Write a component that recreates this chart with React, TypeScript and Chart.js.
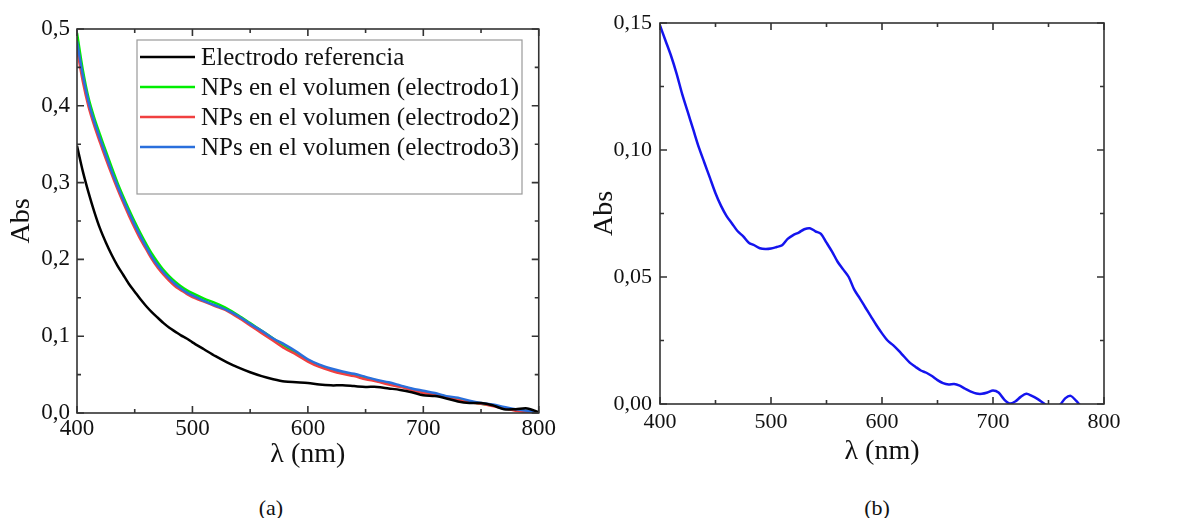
import React, { useEffect, useRef } from "react";
import { Chart, registerables } from "chart.js";

Chart.register(...registerables);

// ---------- Data: panel (a) ----------
const wavelengthsA = [
  400, 405, 410, 415, 420, 425, 430, 435, 440, 445, 450, 455, 460, 465, 470, 475, 480, 485, 490, 495, 500,
  510, 520, 530, 540, 550, 560, 570, 580, 590, 600, 610, 620, 630, 640, 650, 660, 670, 680, 690, 700,
  710, 720, 730, 740, 750, 760, 770, 780, 790, 800,
];
const electrodoReferencia = [
  0.348, 0.315, 0.287, 0.262, 0.24, 0.222, 0.206, 0.192, 0.18, 0.168, 0.158, 0.148, 0.139, 0.131, 0.124, 0.117, 0.111, 0.106, 0.101, 0.097, 0.092,
  0.083, 0.074, 0.066, 0.059, 0.053, 0.048, 0.044, 0.041, 0.04, 0.039, 0.037, 0.036, 0.036, 0.035, 0.034, 0.034, 0.032, 0.03, 0.027, 0.023,
  0.022, 0.019, 0.015, 0.013, 0.013, 0.01, 0.005, 0.005, 0.006, 0.001,
];
const electrodo1 = [
  0.495, 0.447, 0.41, 0.384, 0.362, 0.341, 0.32, 0.3, 0.282, 0.265, 0.249, 0.234, 0.22, 0.207, 0.196, 0.186, 0.178, 0.171, 0.165, 0.16, 0.156,
  0.149, 0.143, 0.136, 0.127, 0.117, 0.107, 0.097, 0.087, 0.078, 0.069, 0.062, 0.057, 0.053, 0.049, 0.046, 0.042, 0.038, 0.035, 0.031, 0.027,
  0.025, 0.021, 0.018, 0.015, 0.012, 0.01, 0.006, 0.004, 0.002, 0.0,
];
const electrodo2 = [
  0.474, 0.432, 0.399, 0.374, 0.352, 0.331, 0.311, 0.292, 0.274, 0.257, 0.241, 0.226, 0.213, 0.2, 0.189, 0.18, 0.172, 0.165, 0.16, 0.155, 0.151,
  0.145, 0.139, 0.133, 0.124, 0.114, 0.104, 0.094, 0.084, 0.076, 0.067, 0.06, 0.055, 0.051, 0.048, 0.044, 0.041, 0.037, 0.034, 0.03, 0.026,
  0.024, 0.02, 0.017, 0.014, 0.012, 0.009, 0.006, 0.003, 0.001, 0.0,
];
const electrodo3 = [
  0.484, 0.44, 0.405, 0.379, 0.357, 0.336, 0.315, 0.296, 0.278, 0.261, 0.245, 0.23, 0.216, 0.203, 0.192, 0.183, 0.175, 0.168, 0.162, 0.157, 0.153,
  0.146, 0.14, 0.134, 0.126, 0.116, 0.107, 0.097, 0.089, 0.08, 0.07, 0.063, 0.058, 0.054, 0.051, 0.047, 0.043, 0.04, 0.036, 0.032, 0.029,
  0.026, 0.022, 0.02, 0.016, 0.013, 0.011, 0.008, 0.005, 0.003, 0.0,
];
const seriesNamesA = [
  "Electrodo referencia",
  "NPs en el volumen (electrodo1)",
  "NPs en el volumen (electrodo2)",
  "NPs en el volumen (electrodo3)",
];
const seriesColorsA = ["#000000", "#00ee00", "#f04040", "#2a6fdc"];

// ---------- Data: panel (b) ----------
const wavelengthsB = [
  400, 405, 410, 415, 420, 425, 430, 435, 440, 445, 450, 455, 460, 465, 470, 475, 480, 485, 490, 495,
  500, 505, 510, 515, 520, 525, 530, 535, 540, 545, 550, 555, 560, 565, 570, 575, 580, 585, 590, 595,
  600, 605, 610, 615, 620, 625, 630, 635, 640, 645, 650, 655, 660, 665, 670, 675, 680, 685, 690, 695,
  700, 705, 710, 715, 720, 725, 730, 735, 740, 745, 750, 755, 760, 765, 770, 775, 780, 785, 790, 795, 800,
];
const absorbanciaB = [
  0.149, 0.143, 0.137, 0.13, 0.122, 0.115, 0.108, 0.101, 0.095, 0.089, 0.083, 0.078, 0.074, 0.071, 0.068, 0.066, 0.0635, 0.0625, 0.0613, 0.061,
  0.0612, 0.0618, 0.0625, 0.065, 0.0665, 0.0675, 0.0688, 0.0692, 0.068, 0.067, 0.0635, 0.06, 0.056, 0.053, 0.05, 0.045, 0.0416, 0.038, 0.0345, 0.031,
  0.0278, 0.025, 0.0232, 0.021, 0.0186, 0.0163, 0.0147, 0.0132, 0.0123, 0.011, 0.0094, 0.0082, 0.0077, 0.0079, 0.0072, 0.006, 0.0049, 0.0041, 0.004, 0.0045,
  0.0053, 0.0045, 0.0018, 0.0002, 0.001, 0.0028, 0.004, 0.0032, 0.002, 0.0005, -0.001, -0.0015, -0.0005, 0.0022, 0.0032, 0.0012, -0.001, -0.0015, -0.0015, -0.0015, -0.0015,
];

const SERIF = "'Liberation Serif', 'Times New Roman', serif";

function makeFramePlugin(xMinorStep: number, yMinorStep: number) {
  return {
    id: "frameTicks",
    afterDraw(chart: any) {
      const { ctx, chartArea } = chart;
      const xs = chart.scales.x;
      const ys = chart.scales.y;
      const { left, right, top, bottom } = chartArea;
      ctx.save();
      ctx.strokeStyle = "#333333";
      ctx.lineWidth = 1.6;
      ctx.strokeRect(left, top, right - left, bottom - top);
      ctx.beginPath();
      const xMin = xs.min, xMax = xs.max;
      let i = 0;
      for (let v = xMin; v <= xMax + 1e-9; v += xMinorStep, i++) {
        const px = xs.getPixelForValue(v);
        const len = i % 2 === 0 ? 7 : 4;
        ctx.moveTo(px, bottom);
        ctx.lineTo(px, bottom - len);
        ctx.moveTo(px, top);
        ctx.lineTo(px, top + len);
      }
      const yMin = ys.min, yMax = ys.max;
      i = 0;
      for (let v = yMin; v <= yMax + 1e-9; v += yMinorStep, i++) {
        const py = ys.getPixelForValue(v);
        const len = i % 2 === 0 ? 7 : 4;
        ctx.moveTo(left, py);
        ctx.lineTo(left + len, py);
        ctx.moveTo(right, py);
        ctx.lineTo(right - len, py);
      }
      ctx.stroke();
      ctx.restore();
    },
  };
}

const legendPlugin = {
  id: "innerLegend",
  afterDraw(chart: any) {
    const { ctx, chartArea } = chart;
    const x0 = chartArea.left + 60;
    const y0 = chartArea.top + 11;
    const w = 385;
    const h = 154;
    ctx.save();
    ctx.fillStyle = "#ffffff";
    ctx.fillRect(x0, y0, w, h);
    ctx.strokeStyle = "#9a9a9a";
    ctx.lineWidth = 1.2;
    ctx.strokeRect(x0, y0, w, h);
    ctx.font = `25px ${SERIF}`;
    ctx.textBaseline = "middle";
    ctx.textAlign = "left";
    seriesNamesA.forEach((name, k) => {
      const yy = y0 + 17 + k * 30;
      ctx.strokeStyle = seriesColorsA[k];
      ctx.lineWidth = 2.5;
      ctx.beginPath();
      ctx.moveTo(x0 + 3, yy);
      ctx.lineTo(x0 + 58, yy);
      ctx.stroke();
      ctx.fillStyle = "#111111";
      ctx.fillText(name, x0 + 64, yy + 1);
    });
    ctx.restore();
  },
};

function commaFmt(digits: number) {
  return (v: any) => Number(v).toFixed(digits).replace(".", ",");
}

export default function App() {
  const refA = useRef<HTMLCanvasElement | null>(null);
  const refB = useRef<HTMLCanvasElement | null>(null);

  useEffect(() => {
    const seriesA = [electrodoReferencia, electrodo1, electrodo2, electrodo3];
    const orders = [0, 3, 2, 1];
    const chartA = new Chart(refA.current as HTMLCanvasElement, {
      type: "line",
      data: {
        datasets: seriesA.map((vals, k) => ({
          label: seriesNamesA[k],
          data: wavelengthsA.map((x, j) => ({ x, y: vals[j] })),
          borderColor: seriesColorsA[k],
          backgroundColor: seriesColorsA[k],
          borderWidth: 2.5,
          pointRadius: 0,
          tension: 0.3,
          clip: 0,
          order: orders[k],
        })),
      },
      options: {
        responsive: false,
        animation: false,
        devicePixelRatio: 1,
        layout: { padding: { top: 29, right: 18, left: 0, bottom: 0 } },
        plugins: { legend: { display: false }, tooltip: { enabled: false } },
        scales: {
          x: {
            type: "linear",
            min: 400,
            max: 800,
            grid: { display: false, drawTicks: false, tickLength: 0 },
            border: { display: false },
            ticks: { stepSize: 100, color: "#111", padding: 4, maxRotation: 0, font: { family: SERIF, size: 23, lineHeight: 1 } },
            title: { display: true, text: "λ (nm)", color: "#111", padding: { top: 0, bottom: 1 }, font: { family: SERIF, size: 28, lineHeight: 1 } },
            afterFit: (s: any) => { s.height = 57; },
          },
          y: {
            type: "linear",
            min: 0,
            max: 0.5,
            grid: { display: false, drawTicks: false, tickLength: 0 },
            border: { display: false },
            ticks: { stepSize: 0.1, color: "#111", padding: 7, callback: commaFmt(1), font: { family: SERIF, size: 23, lineHeight: 1 } },
            title: { display: true, text: "Abs", color: "#111", padding: { top: 8, bottom: 0 }, font: { family: SERIF, size: 28, lineHeight: 1 } },
            afterFit: (s: any) => { s.width = 77; },
          },
        },
      },
      plugins: [makeFramePlugin(50, 0.05), legendPlugin],
    } as any);

    const chartB = new Chart(refB.current as HTMLCanvasElement, {
      type: "line",
      data: {
        datasets: [
          {
            label: "Abs",
            data: wavelengthsB.map((x, j) => ({ x, y: absorbanciaB[j] })),
            borderColor: "#1414ee",
            backgroundColor: "#1414ee",
            borderWidth: 2.5,
            pointRadius: 0,
            tension: 0.3,
            clip: 0,
          },
        ],
      },
      options: {
        responsive: false,
        animation: false,
        devicePixelRatio: 1,
        layout: { padding: { top: 23, right: 75, left: 0, bottom: 0 } },
        plugins: { legend: { display: false }, tooltip: { enabled: false } },
        scales: {
          x: {
            type: "linear",
            min: 400,
            max: 800,
            grid: { display: false, drawTicks: false, tickLength: 0 },
            border: { display: false },
            ticks: { stepSize: 100, color: "#111", padding: 7, maxRotation: 0, font: { family: SERIF, size: 22, lineHeight: 1 } },
            title: { display: true, text: "λ (nm)", color: "#111", padding: { top: 0, bottom: 4 }, font: { family: SERIF, size: 28, lineHeight: 1 } },
            afterFit: (s: any) => { s.height = 66; },
          },
          y: {
            type: "linear",
            min: 0,
            max: 0.15,
            grid: { display: false, drawTicks: false, tickLength: 0 },
            border: { display: false },
            ticks: { stepSize: 0.05, color: "#111", padding: 8, callback: commaFmt(2), font: { family: SERIF, size: 22, lineHeight: 1 } },
            title: { display: true, text: "Abs", color: "#111", padding: { top: 11, bottom: 0 }, font: { family: SERIF, size: 28, lineHeight: 1 } },
            afterFit: (s: any) => { s.width = 80; },
          },
        },
      },
      plugins: [makeFramePlugin(50, 0.025)],
    } as any);

    return () => {
      chartA.destroy();
      chartB.destroy();
    };
  }, []);

  return (
    <div style={{ position: "absolute", left: 0, top: 0, width: 1179, height: 518, background: "#ffffff", overflow: "hidden" }}>
      <canvas ref={refA} width={560} height={470} style={{ position: "absolute", left: 0, top: 0, width: 560, height: 470 }} />
      <canvas ref={refB} width={599} height={470} style={{ position: "absolute", left: 580, top: 0, width: 599, height: 470 }} />
      <div style={{ position: "absolute", left: 221, top: 495, width: 100, textAlign: "center", fontFamily: SERIF, fontSize: 22, lineHeight: "26px", color: "#111" }}>(a)</div>
      <div style={{ position: "absolute", left: 827, top: 495, width: 100, textAlign: "center", fontFamily: SERIF, fontSize: 22, lineHeight: "26px", color: "#111" }}>(b)</div>
    </div>
  );
}
